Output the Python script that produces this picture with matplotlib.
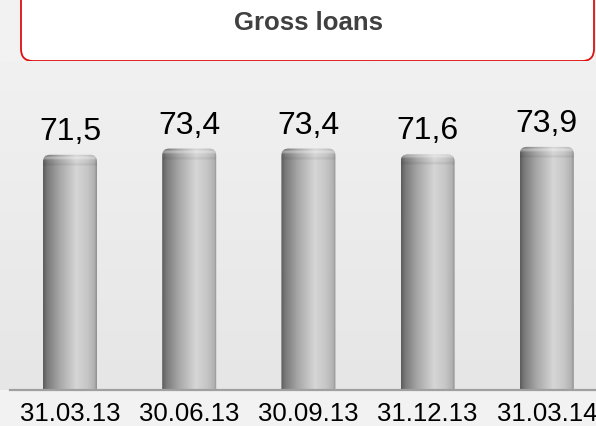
import numpy as np
import matplotlib
matplotlib.use("Agg")
import matplotlib.pyplot as plt
from matplotlib.patches import FancyBboxPatch
from matplotlib.colors import LinearSegmentedColormap

plt.rcParams['font.family'] = ['Liberation Sans', 'DejaVu Sans']

# Data
dates = ["31.03.13", "30.06.13", "30.09.13", "31.12.13", "31.03.14"]
gross_loans = [71.5, 73.4, 73.4, 71.6, 73.9]
title = "Gross loans"

W, H = 596, 427
fig = plt.figure(figsize=(W / 100, H / 100), dpi=100, facecolor="#f2f2f2")

# Title panel with a red rounded border (top edge runs off the canvas)
box_ax = fig.add_axes([0, 0, 1, 1])
box_ax.set_xlim(0, W)
box_ax.set_ylim(H, 0)
box_ax.axis("off")
box_ax.add_patch(FancyBboxPatch((21, -20), 573, 82,
                                boxstyle="round,pad=0,rounding_size=12",
                                facecolor="white", edgecolor="#e01010", lw=1.3))
box_ax.text(308, 23, title, ha="center", va="center", fontsize=18.5,
            fontweight="bold", color="#404040")

# Plot area
base_px, top_px = 391, 62
ax = fig.add_axes([0, (H - base_px) / H, 1, (base_px - top_px) / H])
ax.set_facecolor("none")
x = np.arange(len(dates))
spacing = 119.2
first_center = 70
xmin = -first_center / spacing
xmax = (W - first_center) / spacing
ax.set_xlim(xmin, xmax)
ax.set_ylim(0, 100)

# Soft floor shading behind the bars
bg = np.linspace(0, 1, 256).reshape(-1, 1)
bg_cmap = LinearSegmentedColormap.from_list("bg", ["#e6e6e6", "#f1f1f1"])
ax.imshow(bg, cmap=bg_cmap, extent=(xmin, xmax, 0, 100), origin="lower",
          aspect="auto", zorder=0)

# Cylinder shading
cyl = LinearSegmentedColormap.from_list("cyl", [
    (0.00, "#5c5c5c"), (0.08, "#7a7a7a"), (0.30, "#a6a6a6"),
    (0.62, "#d6d6d6"), (0.82, "#c6c6c6"), (0.95, "#b2b2b2"),
    (1.00, "#8e8e8e")])
grad = np.linspace(0, 1, 256).reshape(1, -1)

bar_w = 54 / spacing
px_x = 1 / spacing          # data units per pixel, x
px_y = 100 / (base_px - top_px)  # data units per pixel, y
radius_px = 7

bars = ax.bar(x, gross_loans, width=bar_w, color="none", edgecolor="none")
for xi, v in zip(x, gross_loans):
    x0, x1 = xi - bar_w / 2, xi + bar_w / 2
    body = FancyBboxPatch((x0, -10 * px_y), bar_w, v + 10 * px_y,
                          boxstyle=f"round,pad=0,rounding_size={radius_px * px_x}",
                          mutation_aspect=px_y / px_x,
                          facecolor="none", edgecolor="none")
    ax.add_patch(body)
    im = ax.imshow(grad, cmap=cyl, extent=(x0, x1, 0, v), aspect="auto",
                   zorder=2)
    im.set_clip_path(body)
    # soft highlight and shade on the rounded cap
    n = 60
    cap = np.zeros((n, 1, 4))
    yy = np.linspace(0, 1, n)  # 0 = lower edge of cap band, 1 = top
    hl = np.exp(-((yy - 0.75) / 0.14) ** 2) * 0.38
    rim = np.exp(-((yy - 0.15) / 0.12) ** 2) * 0.07
    cap[:, 0, :3] = np.where(hl[:, None] > rim[:, None], 1.0, 0.0)
    cap[:, 0, 3] = np.maximum(hl, rim)
    cim = ax.imshow(cap, extent=(x0, x1, v - 11 * px_y, v), origin="lower",
                    aspect="auto", zorder=3, interpolation="bilinear")
    cim.set_clip_path(body)
    ax.text(xi, v + 9 * px_y, f"{v:.1f}".replace(".", ","), ha="center",
            va="bottom", fontsize=23, color="black")

# Base line
ax.axhline(0, xmin=10 / W, xmax=1, color="#a0a0a0", lw=1.6, zorder=4,
           clip_on=False)

ax.set_xticks(x)
ax.set_xticklabels(dates, fontsize=18.5, color="black")
ax.tick_params(axis="x", length=0, pad=8)
ax.set_yticks([])
for s in ax.spines.values():
    s.set_visible(False)

fig.savefig("out.png", dpi=100, facecolor=fig.get_facecolor())
